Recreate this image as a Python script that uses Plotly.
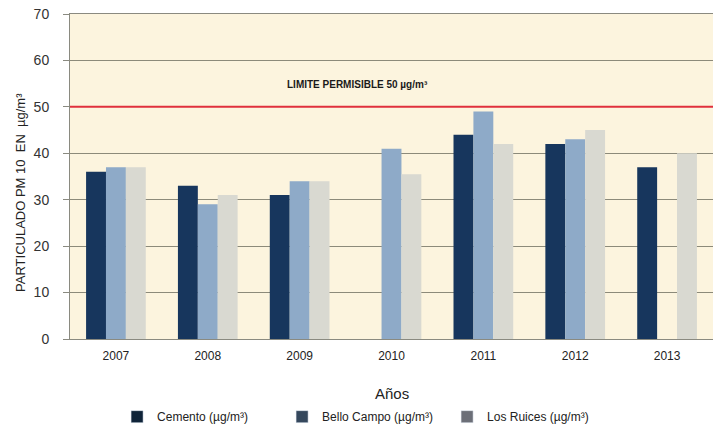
import plotly.graph_objects as go

years = ["2007", "2008", "2009", "2010", "2011", "2012", "2013"]
cemento = [36, 33, 31, None, 44, 42, 37]
bello_campo = [37, 29, 34, 41, 49, 43, None]
los_ruices = [37, 31, 34, 35.5, 42, 45, 40]
series_names = ["Cemento (µg/m³)", "Bello Campo (µg/m³)", "Los Ruices (µg/m³)"]
limite = 50

bar_colors = ["#17365d", "#8eaac8", "#d9d9d1"]
legend_colors = ["#0f2439", "#35485d", "#6c6f78"]
font_main = "Liberation Sans, Arial, sans-serif"

fig = go.Figure()
for name, vals, col in zip(series_names, [cemento, bello_campo, los_ruices], bar_colors):
    fig.add_bar(x=years, y=vals, name=name, marker_color=col, marker_line_width=0,
                showlegend=False)

# legend swatches use the darker tones of the original legend
for name, col in zip(series_names, legend_colors):
    fig.add_bar(x=[years[0]], y=[None], name=name, marker_color=col,
                xaxis="x2", yaxis="y2", showlegend=True)

fig.add_shape(type="line", xref="paper", x0=0, x1=1, yref="y", y0=limite, y1=limite,
              line=dict(color="#e0303c", width=2))
fig.add_annotation(x=0.447, xref="paper", y=54.9, yref="y", showarrow=False,
                   text="<b>LIMITE PERMISIBLE 50 µg/m³</b>",
                   font=dict(family="Liberation Sans Narrow, Liberation Sans, Arial", size=10,
                             color="#1a1a1a"))
fig.add_annotation(x=0.5, xref="paper", y=-0.167, yref="paper", showarrow=False,
                   xanchor="center", yanchor="middle",
                   text="Años", font=dict(family=font_main, size=15, color="#222"))
fig.add_annotation(x=-0.078, xref="paper", y=0.452, yref="paper", showarrow=False,
                   xanchor="center", yanchor="middle",
                   text="PARTICULADO PM 10  EN  µg/m³", textangle=-90,
                   font=dict(family=font_main, size=13, color="#222"))

# page body adds an 8px margin, so the figure is 8px smaller each way
fig.update_layout(
    width=713, height=422,
    margin=dict(l=62, r=8, t=6, b=91),
    paper_bgcolor="white", plot_bgcolor="#fcf4de",
    barmode="group", bargap=0.35, bargroupgap=0,
    font=dict(family=font_main, size=12, color="#222"),
    xaxis=dict(showgrid=False, showline=True, linecolor="#8a8a80", linewidth=1,
               mirror=True, tickfont=dict(size=12), ticks="", ticklabelstandoff=6,
               automargin=False),
    yaxis=dict(range=[0, 70], dtick=10, showgrid=True, gridcolor="#8c8a7a", gridwidth=1,
               showline=True, linecolor="#8a8a80", linewidth=1, mirror=True,
               ticks="outside", ticklen=6, tickcolor="#8a8a80", ticklabelstandoff=11,
               ticklabeloverflow="allow",
               tickfont=dict(size=14, color="#333"), zeroline=False, automargin=False),
    xaxis2=dict(overlaying="x", visible=False, automargin=False),
    yaxis2=dict(overlaying="y", visible=False, automargin=False),
    legend=dict(orientation="h", xref="container", yref="container",
                x=0.153, xanchor="left", y=0.066, yanchor="top",
                entrywidth=120, font=dict(size=12, color="#222")),
)

fig.write_html("out.html")
